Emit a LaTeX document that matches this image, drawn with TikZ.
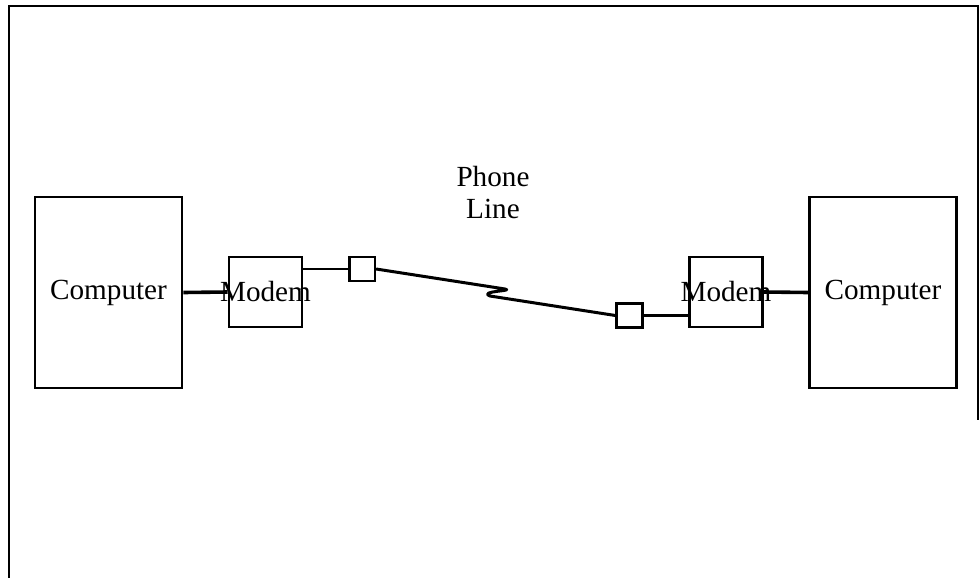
\documentclass[tikz,border=0pt]{standalone}
\usepackage{fontspec}
\setmainfont{Liberation Serif}
\usepackage{tikz}
\newcommand{\drawthick}{\draw[line width=1.8pt]}
\newcommand{\drawwire}{\draw[line width=1.2pt]}
\tikzset{
  box/.style={draw, line width=1.3pt, rectangle, inner sep=0pt,
    font=\fontsize{14.6}{16}\selectfont},
  pc/.style={box, minimum width=73.5pt, minimum height=95.5pt},
  modem/.style={box, minimum width=36.5pt, minimum height=35pt},
  jack/.style={box, fill=white, minimum width=12.8pt, minimum height=12pt}
}

\begin{document}
\begin{tikzpicture}[x=0.5pt, y=-0.5pt]
\useasboundingbox (0,0) rectangle (980,578);
% page frame, open at the bottom
\draw[line width=1.3pt] (9,578)--(9,6)--(978,6)--(978,420);
% left end
\node[pc] (pcL) at (108.5,292.5) {};
\node[modem] (modemL) at (265.5,292) {};
\node[jack] (jackL) at (362,269) {};
% right end
\node[jack] (jackR) at (629.5,315.5) {};
\node[modem] (modemR) at (726,292) {};
\node[pc] (pcR) at (883,292.5) {};
% cables
\drawthick (pcL.east)--(modemL.west);
\drawthick (modemR.east)--(pcR.west);
\drawwire (jackL.west -| modemL.east)--(jackL.west);
\drawwire (jackR.east)--(jackR.east -| modemR.west);
% the phone line with its break
\coordinate (kinkA) at (505,289);
\coordinate (kinkB) at (490,296);
\draw[line width=1.5pt, line join=round] (jackL.east)--(kinkA)
  .. controls (515,291) and (478,291) .. (kinkB)--(jackR.west);
% labels on top of the boxes
\node[font=\fontsize{14.6}{16}\selectfont] at (pcL) {Computer};
\node[font=\fontsize{14.6}{16}\selectfont] at (modemL) {Modem};
\node[font=\fontsize{14.6}{16}\selectfont] at (modemR) {Modem};
\node[font=\fontsize{14.6}{16}\selectfont] at (pcR) {Computer};
\node[font=\fontsize{14.6}{16}\selectfont, align=center] (phone) at (493,193) {Phone\\Line};
\end{tikzpicture}
\end{document}
